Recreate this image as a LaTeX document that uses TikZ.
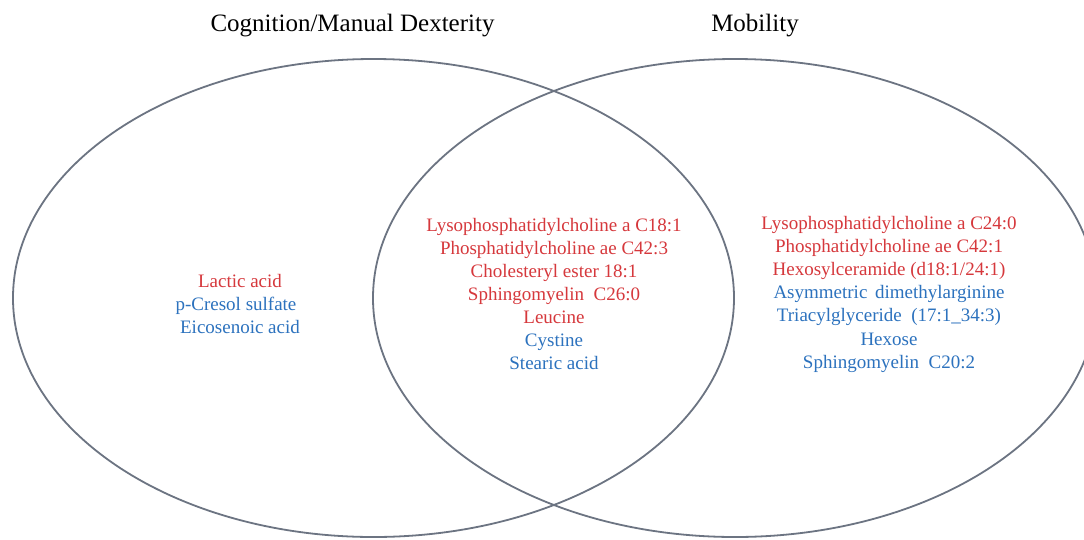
\documentclass[tikz,border=0pt]{standalone}
\usepackage{fontspec}
\setmainfont{Liberation Serif}
\usetikzlibrary{shapes.geometric}
\definecolor{vred}{RGB}{214,56,60}
\definecolor{vblue}{RGB}{44,114,190}
\definecolor{vline}{RGB}{108,116,130}
\tikzset{
  setring/.style={ellipse, draw=vline, line width=1.8pt, inner sep=0pt},
  ttl/.style={anchor=base, inner sep=0pt, font=\fontsize{25}{29}\selectfont},
  itm/.style={anchor=base, inner sep=0pt, font=\fontsize{19}{23}\selectfont},
  rd/.style={itm, text=vred},
  bl/.style={itm, text=vblue}
}
\begin{document}
\begin{tikzpicture}[x=1pt,y=-1pt]
\useasboundingbox (0,0) rectangle (1084,539);
\fill[white] (0,0) rectangle (1084,539);
\clip (0,0) rectangle (1084,539);
\node[setring, minimum width=721pt, minimum height=478pt] (cog) at (373.5,298) {};
\node[setring, minimum width=724pt, minimum height=478pt] (mob) at (735,298) {};
\node[ttl] (tcog) at (352.5,31) {Cognition/Manual Dexterity};
\node[ttl] (tmob) at (755,31) {Mobility};
% left only
\node[rd] (l1) at (240,287) {Lactic acid};
\node[bl] (l2) at (236,310) {p-Cresol sulfate};
\node[bl] (l3) at (240,333) {Eicosenoic acid};
% intersection
\node[rd] (m1) at (554,231) {Lysophosphatidylcholine a C18:1};
\node[rd] (m2) at (554,254) {Phosphatidylcholine ae C42:3};
\node[rd] (m3) at (554,277) {Cholesteryl ester 18:1};
\node[rd] (m4) at (554,300) {Sphingomyelin\hspace{0.5em}C26:0};
\node[rd] (m5) at (554,323) {Leucine};
\node[bl] (m6) at (554,346) {Cystine};
\node[bl] (m7) at (554,369) {Stearic acid};
% right only
\node[rd] (r1) at (889,229) {Lysophosphatidylcholine a C24:0};
\node[rd] (r2) at (889,252) {Phosphatidylcholine ae C42:1};
\node[rd] (r3) at (889,275) {Hexosylceramide (d18:1/24:1)};
\node[bl] (r4) at (889,298) {Asymmetric\hspace{0.4em}dimethylarginine};
\node[bl] (r5) at (889,321) {Triacylglyceride\hspace{0.5em}(17:1\_34:3)};
\node[bl] (r6) at (889,345) {Hexose};
\node[bl] (r7) at (889,368) {Sphingomyelin\hspace{0.5em}C20:2};
\end{tikzpicture}
\end{document}
